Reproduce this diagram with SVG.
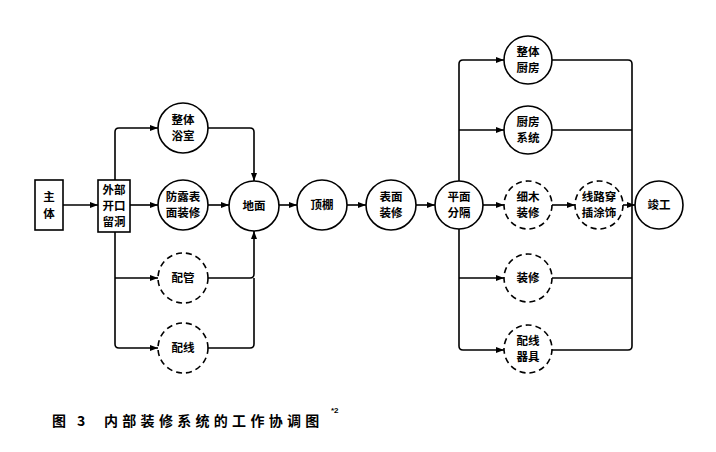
<svg xmlns="http://www.w3.org/2000/svg" width="716" height="452" viewBox="0 0 716 452">
<style>
.n{fill:#fff;stroke:#000;stroke-width:1.6}
.d{stroke-dasharray:6 4}
.t{font-family:"Noto Sans CJK SC","Noto Sans",sans-serif;font-size:11.5px;font-weight:bold;text-anchor:middle;fill:#000}
.c{fill:none;stroke:#000;stroke-width:1.6}
.cap{font-family:"Noto Sans CJK SC","Noto Sans",sans-serif;font-size:14px;font-weight:bold;fill:#000}
.sup{font-family:"Liberation Sans",sans-serif;font-size:8px;font-weight:bold;fill:#000}
</style>
<defs>
<marker id="a" viewBox="0 0 8 6" refX="8" refY="3" markerWidth="8" markerHeight="6" markerUnits="userSpaceOnUse" orient="auto">
<path d="M0,0 L8,3 L0,6 Z" fill="#000"/>
</marker>
</defs>
<rect width="716" height="452" fill="#fff"/>
<g id="connectors">
<path class="c" d="M63,205 H98" marker-end="url(#a)"/>
<path class="c" d="M130,205 H158" marker-end="url(#a)"/>
<path class="c" d="M115,180 V132 Q115,128 119,128 H158" marker-end="url(#a)"/>
<path class="c" d="M115,232 V344 Q115,348 119,348 H158" marker-end="url(#a)"/>
<path class="c" d="M115,278 H158" marker-end="url(#a)"/>
<path class="c" d="M208,128 H250 Q254,128 254,132 V181" marker-end="url(#a)"/>
<path class="c" d="M208,205 H229" marker-end="url(#a)"/>
<path class="c" d="M208,278 H250 Q254,278 254,274 V231" marker-end="url(#a)"/>
<path class="c" d="M208,348 H250 Q254,348 254,344 V278"/>
<path class="c" d="M279,205 H297" marker-end="url(#a)"/>
<path class="c" d="M347,205 H366" marker-end="url(#a)"/>
<path class="c" d="M416,205 H435" marker-end="url(#a)"/>
<path class="c" d="M459,181 V64 Q459,60 463,60 H504" marker-end="url(#a)"/>
<path class="c" d="M459,130 H504" marker-end="url(#a)"/>
<path class="c" d="M459,229 V346 Q459,350 463,350 H504" marker-end="url(#a)"/>
<path class="c" d="M459,278 H504" marker-end="url(#a)"/>
<path class="c" d="M483,205 H504" marker-end="url(#a)"/>
<path class="c" d="M552,205 H575" marker-end="url(#a)"/>
<path class="c" d="M623,205 H635" marker-end="url(#a)"/>
<path class="c" d="M552,60 H628 Q632,60 632,64 V346 Q632,350 628,350 H552"/>
<path class="c" d="M552,130 H632"/>
<path class="c" d="M552,278 H632"/>
</g>
<g id="zhuti">
<rect class="n" x="35" y="180" width="28" height="50"/>
<text class="t" x="49" y="201">主</text>
<text class="t" x="49" y="218">体</text>
</g>
<g id="waibu">
<rect class="n" x="98" y="180" width="32" height="52"/>
<text class="t" x="114" y="194">外部</text>
<text class="t" x="114" y="210">开口</text>
<text class="t" x="114" y="226">留洞</text>
</g>
<g id="zhengtiyushi">
<circle class="n" cx="183" cy="128" r="25"/>
<text class="t" x="183" y="124">整体</text>
<text class="t" x="183" y="140">浴室</text>
</g>
<g id="fanglu">
<circle class="n" cx="183" cy="205" r="25"/>
<text class="t" x="183" y="201">防露表</text>
<text class="t" x="183" y="217">面装修</text>
</g>
<g id="peiguan">
<circle class="n d" cx="183" cy="278" r="25"/>
<text class="t" x="183" y="282">配管</text>
</g>
<g id="peixian">
<circle class="n d" cx="183" cy="348" r="25"/>
<text class="t" x="183" y="352">配线</text>
</g>
<g id="dimian">
<circle class="n" cx="254" cy="206" r="25"/>
<text class="t" x="254" y="210">地面</text>
</g>
<g id="dingpeng">
<circle class="n" cx="322" cy="205" r="25"/>
<text class="t" x="322" y="209">顶棚</text>
</g>
<g id="biaomian">
<circle class="n" cx="391" cy="205" r="25"/>
<text class="t" x="391" y="201">表面</text>
<text class="t" x="391" y="217">装修</text>
</g>
<g id="pingmian">
<circle class="n" cx="459" cy="205" r="24"/>
<text class="t" x="459" y="201">平面</text>
<text class="t" x="459" y="217">分隔</text>
</g>
<g id="zhengtichufang">
<circle class="n" cx="528" cy="60" r="24"/>
<text class="t" x="528" y="56">整体</text>
<text class="t" x="528" y="72">厨房</text>
</g>
<g id="chufangxitong">
<circle class="n" cx="528" cy="130" r="24"/>
<text class="t" x="528" y="126">厨房</text>
<text class="t" x="528" y="142">系统</text>
</g>
<g id="ximu">
<circle class="n d" cx="528" cy="205" r="24"/>
<text class="t" x="528" y="201">细木</text>
<text class="t" x="528" y="217">装修</text>
</g>
<g id="xianlu">
<circle class="n d" cx="599" cy="205" r="24"/>
<text class="t" x="599" y="201">线路穿</text>
<text class="t" x="599" y="217">插涂饰</text>
</g>
<g id="jungong">
<circle class="n" cx="659" cy="205" r="24"/>
<text class="t" x="659" y="209">竣工</text>
</g>
<g id="zhuangxiu">
<circle class="n d" cx="528" cy="278" r="24"/>
<text class="t" x="528" y="282">装修</text>
</g>
<g id="peixianqiju">
<circle class="n d" cx="528" cy="349" r="24"/>
<text class="t" x="528" y="345">配线</text>
<text class="t" x="528" y="361">器具</text>
</g>
<g id="caption">
<text class="cap" x="52" y="426">图</text>
<text class="cap" x="77" y="426">3</text>
<text class="cap" x="104" y="426" letter-spacing="4.3">内部装修系统的工作协调图</text>
<text class="sup" x="331" y="413">*2</text>
</g>
</svg>
